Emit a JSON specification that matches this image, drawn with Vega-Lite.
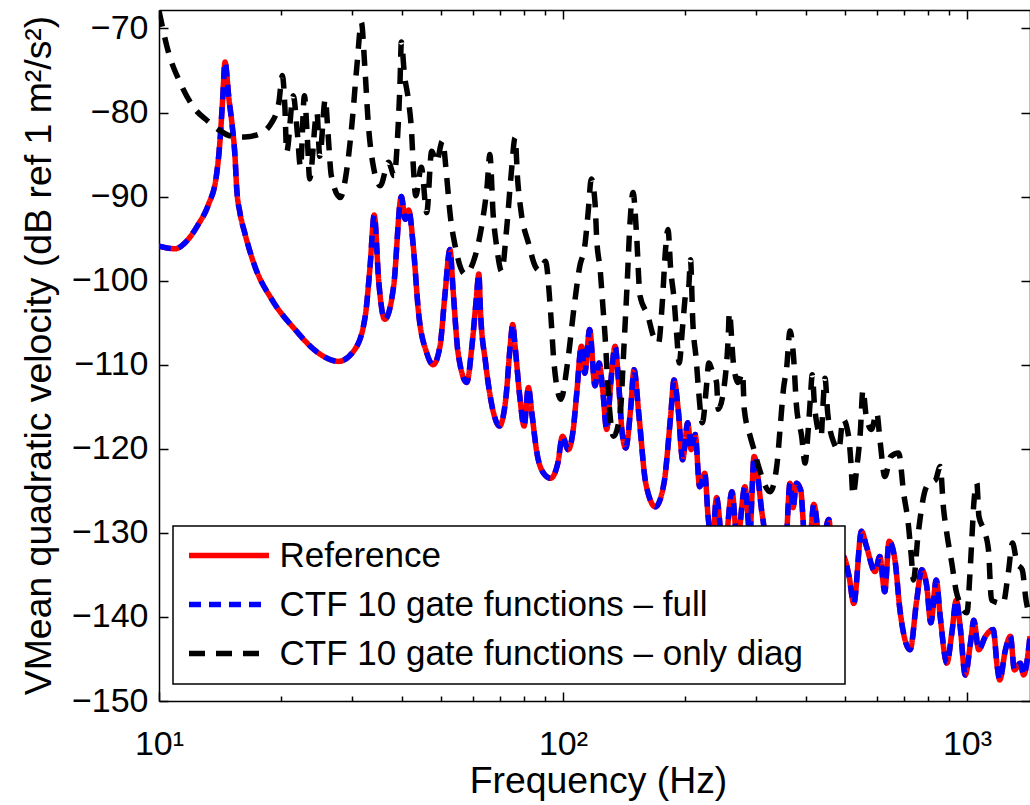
{
  "$schema": "https://vega.github.io/schema/vega-lite/v6.json",
  "width": 871,
  "height": 691,
  "autosize": {"type": "none"},
  "padding": {"left": 159, "top": 10, "right": 0, "bottom": 104},
  "background": "white",
  "config": {
    "font": "Liberation Sans",
    "view": {"stroke": null},
    "axis": {"grid": false, "labelFont": "Liberation Sans", "titleFont": "Liberation Sans", "labelColor": "black", "titleColor": "black", "domainColor": "black", "tickColor": "black", "domainWidth": 1.5, "tickWidth": 1.5, "titleFontWeight": "normal"}
  },
  "datasets": {
    "ref": [
      {"f":10,"v":-95.9},{"f":10.95,"v":-96.2},{"f":11.8,"v":-95.1},{"f":12.51,"v":-93.3},{"f":13.24,"v":-91.0},{"f":13.87,"v":-87.5},{"f":14.15,"v":-83.5},{"f":14.37,"v":-78.5},{"f":14.57,"v":-74.0},{"f":14.9,"v":-78.4},{"f":15.18,"v":-81.6},{"f":15.42,"v":-85.2},{"f":15.57,"v":-89.0},{"f":15.86,"v":-91.9},{"f":16.3,"v":-94.3},{"f":17.27,"v":-98.3},{"f":19.0,"v":-102.2},{"f":21.7,"v":-105.8},{"f":24.8,"v":-108.6},{"f":27.8,"v":-109.6},{"f":30.5,"v":-108.2},{"f":32.4,"v":-104.2},{"f":33.3,"v":-98.3},{"f":34.1,"v":-92.2},{"f":35.0,"v":-100.2},{"f":36.2,"v":-104.6},{"f":38.1,"v":-100.6},{"f":39.8,"v":-90.0},{"f":40.7,"v":-92.7},{"f":41.5,"v":-91.6},{"f":42.6,"v":-95.9},{"f":43.9,"v":-103.8},{"f":46.0,"v":-108.6},{"f":47.7,"v":-110.0},{"f":49.6,"v":-107.8},{"f":51.0,"v":-101.8},{"f":52.5,"v":-96.3},{"f":53.5,"v":-101.4},{"f":55.0,"v":-108.6},{"f":57.8,"v":-112.1},{"f":59.5,"v":-107.8},{"f":61.0,"v":-102.2},{"f":61.9,"v":-99.2},{"f":62.5,"v":-103.8},{"f":64.3,"v":-109.7},{"f":67.3,"v":-115.7},{"f":69.6,"v":-117.3},{"f":72.3,"v":-113.7},{"f":74.0,"v":-107.8},{"f":75.1,"v":-105.2},{"f":76.1,"v":-107.8},{"f":78.3,"v":-114.1},{"f":80.1,"v":-117.3},{"f":82.1,"v":-112.7},{"f":83.7,"v":-115.7},{"f":86.2,"v":-120.5},{"f":89.5,"v":-122.9},{"f":93.2,"v":-123.5},{"f":97.1,"v":-121.7},{"f":99.7,"v":-118.5},{"f":103.0,"v":-120.1},{"f":106.0,"v":-117.7},{"f":108.0,"v":-113.7},{"f":111.1,"v":-107.8},{"f":113.2,"v":-111.0},{"f":116.4,"v":-105.8},{"f":120.0,"v":-112.5},{"f":122.9,"v":-109.8},{"f":125.4,"v":-113.0},{"f":128.3,"v":-117.7},{"f":131.3,"v":-112.1},{"f":134.6,"v":-107.8},{"f":137.3,"v":-112.1},{"f":140.1,"v":-118.1},{"f":143.0,"v":-119.9},{"f":147.0,"v":-115.3},{"f":149.9,"v":-110.6},{"f":154.2,"v":-116.1},{"f":160.3,"v":-124.1},{"f":169.3,"v":-126.9},{"f":177.8,"v":-124.1},{"f":184.7,"v":-116.1},{"f":188.3,"v":-111.8},{"f":192.8,"v":-115.3},{"f":197.8,"v":-121.3},{"f":203.6,"v":-116.9},{"f":207.6,"v":-120.1},{"f":212.5,"v":-118.3},{"f":217.8,"v":-124.5},{"f":224.3,"v":-122.9},{"f":228.6,"v":-128.0},{"f":234,"v":-131.5},{"f":239.9,"v":-125.8},{"f":250,"v":-133},{"f":262.0,"v":-125.1},{"f":270,"v":-131},{"f":282.1,"v":-124.5},{"f":290,"v":-130},{"f":297.2,"v":-120.9},{"f":311.6,"v":-128.0},{"f":325,"v":-133},{"f":345,"v":-130},{"f":355,"v":-132},{"f":364.6,"v":-124.1},{"f":371,"v":-127},{"f":378.4,"v":-124.1},{"f":387.6,"v":-124.9},{"f":395,"v":-130},{"f":405,"v":-133},{"f":417.7,"v":-126.6},{"f":435,"v":-132},{"f":455,"v":-128.4},{"f":465,"v":-134},{"f":475.6,"v":-137.6},{"f":493.6,"v":-132.8},{"f":510.7,"v":-135.2},{"f":524.5,"v":-138.4},{"f":548.1,"v":-129.8},{"f":563.8,"v":-131.6},{"f":592,"v":-134.6},{"f":608.3,"v":-132.8},{"f":625.8,"v":-137.0},{"f":641.5,"v":-131.0},{"f":663.1,"v":-133.2},{"f":682.5,"v":-139.2},{"f":722.9,"v":-143.9},{"f":750.8,"v":-138.0},{"f":772.5,"v":-134.4},{"f":795.2,"v":-136.4},{"f":813.6,"v":-140.7},{"f":839.4,"v":-135.6},{"f":858.5,"v":-140.0},{"f":891.6,"v":-145.5},{"f":917.3,"v":-141.9},{"f":940.7,"v":-138.0},{"f":962.0,"v":-141.2},{"f":990.2,"v":-146.9},{"f":1020,"v":-143.1},{"f":1039.6,"v":-140.4},{"f":1069,"v":-143.9},{"f":1111,"v":-142.3},{"f":1161,"v":-141.5},{"f":1188,"v":-145.9},{"f":1205,"v":-147.5},{"f":1245,"v":-143.9},{"f":1281,"v":-142.3},{"f":1310,"v":-146.3},{"f":1355,"v":-145.5},{"f":1381,"v":-146.9},{"f":1432,"v":-142.3}
    ],
    "diag": [
      {"f":10,"v":-67.9},{"f":10.55,"v":-72.8},{"f":11.27,"v":-76.4},{"f":12.28,"v":-79.6},{"f":13.2,"v":-81.0},{"f":14.0,"v":-82.0},{"f":15.1,"v":-82.8},{"f":16.3,"v":-82.9},{"f":17.6,"v":-82.6},{"f":19.0,"v":-81.2},{"f":19.8,"v":-78.8},{"f":20.2,"v":-75.6},{"f":20.5,"v":-79.5},{"f":20.7,"v":-84.7},{"f":21.5,"v":-78.0},{"f":22.0,"v":-82.4},{"f":22.4,"v":-86.5},{"f":22.9,"v":-78.0},{"f":23.3,"v":-83.2},{"f":23.6,"v":-87.9},{"f":24.6,"v":-80.0},{"f":25.0,"v":-85.2},{"f":25.8,"v":-78.4},{"f":26.2,"v":-82.4},{"f":26.7,"v":-87.5},{"f":28.1,"v":-90.1},{"f":29.1,"v":-87.1},{"f":30.0,"v":-81.6},{"f":30.9,"v":-74.4},{"f":31.7,"v":-69.3},{"f":32.3,"v":-74.4},{"f":33.0,"v":-81.6},{"f":33.9,"v":-86.3},{"f":35.3,"v":-88.7},{"f":37.0,"v":-85.9},{"f":38.2,"v":-87.5},{"f":39.0,"v":-82.4},{"f":39.5,"v":-76.4},{"f":39.8,"v":-71.6},{"f":40.5,"v":-75.5},{"f":41.4,"v":-78.4},{"f":42.2,"v":-82.4},{"f":42.6,"v":-86.3},{"f":43.2,"v":-89.9},{"f":44.6,"v":-86.5},{"f":46.0,"v":-91.9},{"f":47.3,"v":-84.6},{"f":48.6,"v":-85.9},{"f":50.3,"v":-83.4},{"f":51.6,"v":-87.9},{"f":52.5,"v":-91.9},{"f":54.1,"v":-95.9},{"f":57.2,"v":-99.2},{"f":60.6,"v":-97.1},{"f":63.1,"v":-93.1},{"f":64.9,"v":-88.7},{"f":65.9,"v":-85.0},{"f":67.2,"v":-92.3},{"f":68.5,"v":-95.9},{"f":70.5,"v":-98.9},{"f":72.5,"v":-93.9},{"f":74.5,"v":-87.1},{"f":76.1,"v":-83.0},{"f":77.2,"v":-87.9},{"f":78.8,"v":-91.9},{"f":82.1,"v":-95.5},{"f":85.4,"v":-98.3},{"f":87.5,"v":-98.8},{"f":90.5,"v":-97.7},{"f":93.2,"v":-103.8},{"f":95.0,"v":-109.8},{"f":98.8,"v":-114.1},{"f":102.6,"v":-109.8},{"f":106.6,"v":-103.0},{"f":110.0,"v":-98.3},{"f":113.2,"v":-95.9},{"f":115.4,"v":-91.9},{"f":117.5,"v":-87.9},{"f":120.0,"v":-90.7},{"f":121.2,"v":-95.1},{"f":123.6,"v":-98.7},{"f":125.5,"v":-103.0},{"f":127.1,"v":-106.6},{"f":129.6,"v":-113.7},{"f":133.4,"v":-118.5},{"f":138.6,"v":-115.7},{"f":141.4,"v":-108.2},{"f":144.2,"v":-100.2},{"f":146.5,"v":-93.1},{"f":149.1,"v":-89.5},{"f":152.0,"v":-94.3},{"f":155.1,"v":-101.8},{"f":162.3,"v":-104.2},{"f":167.4,"v":-106.6},{"f":172.4,"v":-107.4},{"f":175.9,"v":-103.0},{"f":179.4,"v":-96.3},{"f":181.9,"v":-93.9},{"f":184.8,"v":-98.7},{"f":188.3,"v":-102.2},{"f":191.3,"v":-106.6},{"f":193.9,"v":-109.8},{"f":197.8,"v":-105.4},{"f":201.6,"v":-101.4},{"f":204.5,"v":-101.0},{"f":206.8,"v":-97.5},{"f":209.6,"v":-105.0},{"f":213.7,"v":-109.4},{"f":216.5,"v":-113.0},{"f":221.3,"v":-116.9},{"f":226.5,"v":-112.6},{"f":229.5,"v":-109.8},{"f":235,"v":-111.0},{"f":239.9,"v":-112.1},{"f":242.2,"v":-115.3},{"f":251.7,"v":-111.8},{"f":256.5,"v":-106.6},{"f":258.0,"v":-103.8},{"f":264.1,"v":-109.8},{"f":271,"v":-112.1},{"f":278.3,"v":-111.0},{"f":281,"v":-115.3},{"f":290.6,"v":-118.5},{"f":297,"v":-120.1},{"f":304.9,"v":-122.1},{"f":325.7,"v":-125.1},{"f":338.1,"v":-122.1},{"f":344.5,"v":-117.7},{"f":351.1,"v":-113.0},{"f":358.0,"v":-110.2},{"f":364.6,"v":-106.0},{"f":372,"v":-109.0},{"f":378.4,"v":-114.9},{"f":389.7,"v":-118.5},{"f":397.3,"v":-121.7},{"f":404,"v":-118.1},{"f":409.4,"v":-114.1},{"f":413.9,"v":-111.2},{"f":420,"v":-115.3},{"f":435.5,"v":-118.5},{"f":440,"v":-114.9},{"f":445.2,"v":-111.6},{"f":452,"v":-115.7},{"f":468.3,"v":-119.3},{"f":481.4,"v":-120.1},{"f":493.4,"v":-116.5},{"f":509.2,"v":-118.5},{"f":516.2,"v":-121.7},{"f":522.0,"v":-125.5},{"f":534.0,"v":-122.1},{"f":544.3,"v":-118.1},{"f":552.6,"v":-113.0},{"f":563,"v":-116.1},{"f":580,"v":-117.7},{"f":597.7,"v":-115.7},{"f":610,"v":-119.3},{"f":625.8,"v":-123.3},{"f":648,"v":-120.9},{"f":677.6,"v":-120.5},{"f":697,"v":-125.3},{"f":715.1,"v":-128.8},{"f":728,"v":-132.8},{"f":736.9,"v":-135.6},{"f":756,"v":-130.4},{"f":783.9,"v":-125.3},{"f":805,"v":-124.1},{"f":835.7,"v":-123.7},{"f":858.5,"v":-122.1},{"f":874,"v":-126.9},{"f":891,"v":-130.0},{"f":917,"v":-133.6},{"f":943,"v":-137.2},{"f":1000,"v":-139.5},{"f":1017,"v":-134.8},{"f":1030,"v":-130.0},{"f":1040,"v":-126.4},{"f":1058,"v":-124.1},{"f":1070,"v":-128.0},{"f":1100,"v":-129.6},{"f":1130,"v":-132.0},{"f":1150,"v":-138.0},{"f":1228,"v":-138.4},{"f":1265,"v":-134.8},{"f":1296,"v":-131.2},{"f":1330,"v":-133.6},{"f":1370,"v":-134.4},{"f":1400,"v":-138.0},{"f":1432,"v":-140.0}
    ]
  },
  "layer": [
    {
      "data": {"name": "ref"},
      "mark": {"type": "line", "strokeWidth": 5.5, "interpolate": "monotone", "clip": true, "strokeCap": "butt"},
      "encoding": {
        "x": {
          "field": "f", "type": "quantitative",
          "scale": {"type": "log", "domain": [10, 1432], "nice": false},
          "axis": {
            "orient": "bottom",
            "values": [10,20,30,40,50,60,70,80,90,100,200,300,400,500,600,700,800,900,1000],
            "labelExpr": "datum.value==10?'10¹':datum.value==100?'10²':datum.value==1000?'10³':''",
            "tickSize": {"condition": {"test": "datum.value==10||datum.value==100||datum.value==1000", "value": -9}, "value": -5},
            "labelFontSize": 34,
            "labelBaseline": "alphabetic",
            "labelPadding": 62,
            "labelFlush": false,
            "labelOverlap": false,
            "title": "Frequency (Hz)",
            "titleFontSize": 37.4,
            "titleX": 439,
            "titleY": 91,
            "titleBaseline": "alphabetic",
            "titleAlign": "center"
          }
        },
        "y": {
          "field": "v", "type": "quantitative",
          "scale": {"domain": [-150, -67.8], "nice": false, "zero": false},
          "axis": {
            "orient": "left",
            "values": [-150,-140,-130,-120,-110,-100,-90,-80,-70],
            "tickSize": -9,
            "labelFontSize": 34,
            "labelPadding": 20,
            "labelFlush": false,
            "labelOverlap": false,
            "title": "VMean quadratic velocity (dB ref 1 m²/s²)",
            "titleFontSize": 37.4,
            "titleAngle": -90,
            "titleX": -109,
            "titleY": 345,
            "titleBaseline": "alphabetic",
            "titleAlign": "center"
          }
        },
        "color": {
          "datum": "Reference",
          "scale": {"domain": ["Reference", "CTF 10 gate functions – full", "CTF 10 gate functions – only diag"], "range": ["#ff0000", "#0000ff", "#000000"]},
          "legend": {
            "orient": "none", "legendX": 14, "legendY": 516, "title": null,
            "strokeColor": "black", "fillColor": "white",
            "padding": 12, "labelFontSize": 35, "labelColor": "black", "labelFont": "Liberation Sans", "labelLimit": 0,
            "symbolType": "M-4,0H4M59.3,0", "symbolSize": 400, "symbolStrokeWidth": 5.5,
            "symbolOffset": 26.5, "labelOffset": 33, "rowPadding": 13,
            "encode": {"legend": {"update": {"strokeWidth": {"value": 1.5}}}}
          }
        },
        "strokeDash": {
          "datum": "Reference",
          "scale": {"domain": ["Reference", "CTF 10 gate functions – full", "CTF 10 gate functions – only diag"], "range": [[1, 0], [12, 8], [16, 11]]},
          "legend": {
            "orient": "none", "legendX": 14, "legendY": 516, "title": null,
            "strokeColor": "black", "fillColor": "white",
            "padding": 12, "labelFontSize": 35, "labelColor": "black", "labelFont": "Liberation Sans", "labelLimit": 0,
            "symbolType": "M-4,0H4M59.3,0", "symbolSize": 400, "symbolStrokeWidth": 5.5,
            "symbolOffset": 26.5, "labelOffset": 33, "rowPadding": 13,
            "encode": {"legend": {"update": {"strokeWidth": {"value": 1.5}}}}
          }
        }
      }
    },
    {
      "data": {"name": "ref"},
      "mark": {"type": "line", "strokeWidth": 5.5, "interpolate": "monotone", "clip": true, "strokeCap": "butt"},
      "encoding": {
        "x": {"field": "f", "type": "quantitative", "axis": null},
        "y": {"field": "v", "type": "quantitative", "axis": null},
        "color": {"datum": "CTF 10 gate functions – full"},
        "strokeDash": {"datum": "CTF 10 gate functions – full"}
      }
    },
    {
      "data": {"name": "diag"},
      "mark": {"type": "line", "strokeWidth": 5.5, "interpolate": "monotone", "clip": true, "strokeCap": "butt"},
      "encoding": {
        "x": {
          "field": "f", "type": "quantitative",
          "axis": {
            "orient": "top",
            "values": [10,20,30,40,50,60,70,80,90,100,200,300,400,500,600,700,800,900,1000],
            "labels": false,
            "title": null,
            "tickSize": {"condition": {"test": "datum.value==10||datum.value==100||datum.value==1000", "value": -9}, "value": -5}
          }
        },
        "y": {
          "field": "v", "type": "quantitative",
          "axis": {
            "orient": "right",
            "values": [-150,-140,-130,-120,-110,-100,-90,-80,-70],
            "labels": false,
            "title": null,
            "tickSize": -9
          }
        },
        "color": {"datum": "CTF 10 gate functions – only diag"},
        "strokeDash": {"datum": "CTF 10 gate functions – only diag"}
      }
    }
  ],
  "resolve": {"axis": {"x": "independent", "y": "independent"}}
}
